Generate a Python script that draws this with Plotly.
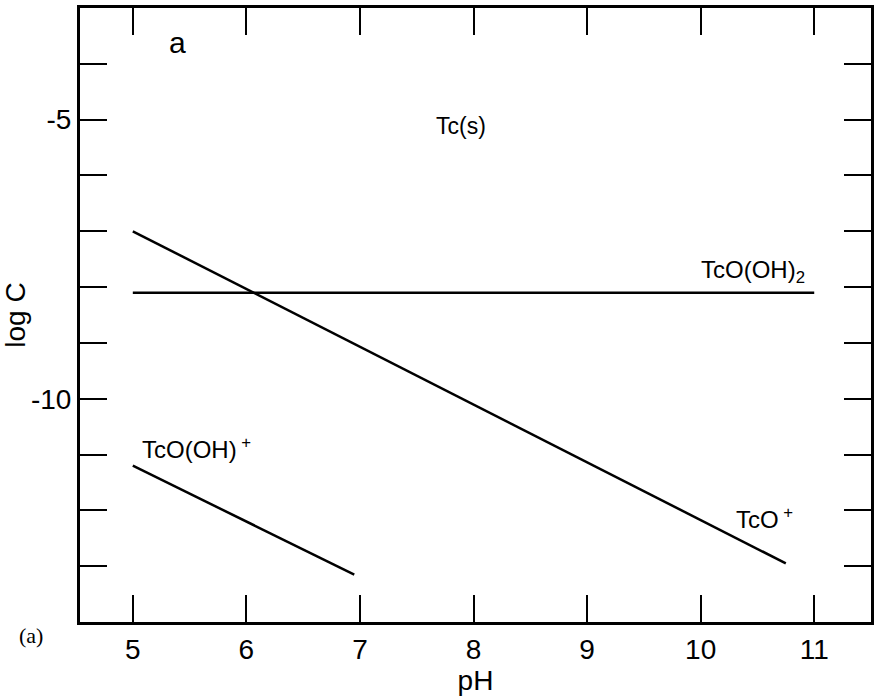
import plotly.graph_objects as go

# Data (pH vs log C)
ph_tcooh2 = [5.0, 11.0]
logc_tcooh2 = [-8.1, -8.1]

ph_tco = [5.0, 10.75]
logc_tco = [-7.0, -12.95]

ph_tcooh = [5.0, 6.95]
logc_tcooh = [-11.2, -13.15]

x_ticks = [5, 6, 7, 8, 9, 10, 11]
y_ticks = [-10, -5]
y_ticklabels = ["-10", "-5"]

labels = [
    ("a", 5.39, -3.62, 30),
    ("Tc(s)", 7.89, -5.12, 23),
    ("TcO(OH)<sub>2</sub>", 10.46, -7.72, 24),
    ("TcO(OH)<sup> +</sup>", 5.56, -10.88, 24),
    ("TcO<sup> +</sup>", 10.56, -12.13, 24),
]

FONT = "Liberation Sans, Arial, sans-serif"

fig = go.Figure()
line_style = dict(color="black", width=2.5)
for xs, ys in [(ph_tcooh2, logc_tcooh2), (ph_tco, logc_tco), (ph_tcooh, logc_tcooh)]:
    fig.add_trace(go.Scatter(x=xs, y=ys, mode="lines", line=line_style,
                             showlegend=False, hoverinfo="skip"))

for txt, x, y, sz in labels:
    fig.add_annotation(x=x, y=y, text=txt, showarrow=False,
                       font=dict(family=FONT, size=sz, color="black"),
                       xanchor="center", yanchor="middle")

fig.add_annotation(xref="paper", yref="paper", x=-0.062, y=-0.022, text="(a)",
                   showarrow=False, font=dict(family="Liberation Serif, serif", size=22, color="black"),
                   xanchor="center", yanchor="middle")

fig.update_layout(
    width=874, height=698,
    margin=dict(l=80, r=0, t=8, b=76),
    paper_bgcolor="white", plot_bgcolor="white",
    font=dict(family=FONT, color="black"),
    xaxis=dict(range=[4.535, 11.5], tickvals=x_ticks, ticks="inside", ticklen=27,
               tickwidth=2, tickcolor="black", showline=True, linecolor="black",
               linewidth=3, mirror="ticks", showgrid=False, zeroline=False,
               tickfont=dict(size=28, family=FONT),
               title=dict(text="pH", font=dict(size=28, family=FONT), standoff=2)),
    yaxis=dict(range=[-14, -3], tickvals=y_ticks, ticktext=y_ticklabels,
               ticks="inside", ticklen=27, tickwidth=2, tickcolor="black",
               showline=True, linecolor="black", linewidth=3, mirror="ticks",
               showgrid=False, zeroline=False,
               minor=dict(ticks="inside", ticklen=27, tickwidth=2, tickcolor="black",
                          tick0=-14, dtick=1, showgrid=False),
               tickfont=dict(size=28, family=FONT),
               title=dict(text="log C", font=dict(size=28, family=FONT), standoff=2)),
)

fig.write_html("out.html")
